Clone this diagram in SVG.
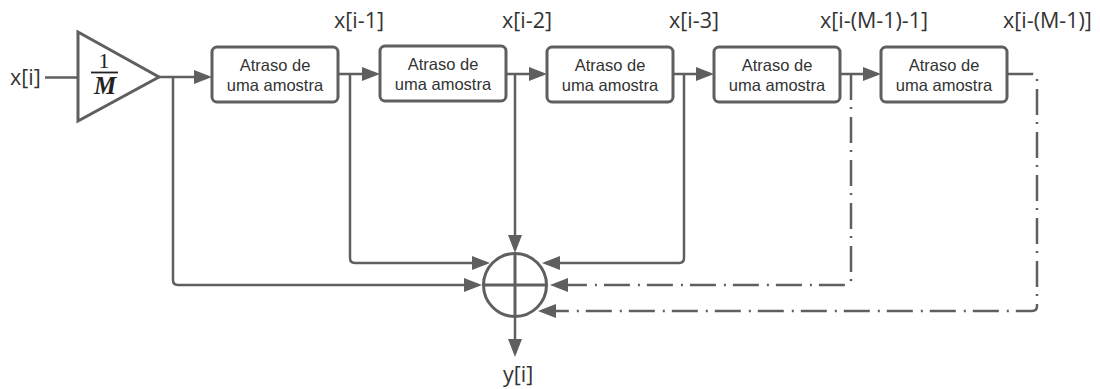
<svg xmlns="http://www.w3.org/2000/svg" width="1100" height="389" viewBox="0 0 1100 389">
  <defs>
    <marker id="arrow" markerUnits="userSpaceOnUse" markerWidth="19" markerHeight="15" refX="14" refY="7" orient="auto">
      <path d="M0,0 L18,7 L0,14 Z" fill="#5f5f5f" stroke="none"/>
    </marker>
    <style>
      .box { fill: #ffffff; stroke: #5f5f5f; stroke-width: 3; }
      .line { fill: none; stroke: #5f5f5f; stroke-width: 2.5; }
      .arr { marker-end: url(#arrow); }
      .dd { stroke-dasharray: 26 7 2 8; }
      .lbl { font-family: "Open Sans", "Liberation Sans", sans-serif; font-size: 21.5px; fill: #333333; }
      .btxt { font-family: "Liberation Sans", Arial, sans-serif; font-size: 16.5px; fill: #333333; text-anchor: middle; }
      .math { font-family: "Liberation Serif", "Times New Roman", serif; fill: #222222; text-anchor: middle; }
    </style>
  </defs>

  <rect width="1100" height="389" fill="#ffffff"/>

  <!-- signal connectors -->
  <g id="connectors">
    <!-- input into gain -->
    <path class="line" d="M45,77.5 H78"/>
    <!-- gain output to first delay, and tap to the adder -->
    <path class="line arr" d="M159,77 H208"/>
    <path class="line arr" d="M173,77 V280 Q173,285 178,285 H478"/>
    <!-- delay chain -->
    <path class="line arr" d="M338,74 H376"/>
    <path class="line arr" d="M350,74 V258 Q350,263 355,263 H486"/>
    <path class="line arr" d="M506,74 H543"/>
    <path class="line arr" d="M515,74 V249"/>
    <path class="line arr" d="M673,74 H710"/>
    <path class="line arr" d="M684,74 V258 Q684,263 679,263 H546"/>
    <!-- dash-dot continuation taps -->
    <path class="line dd" d="M840,74 H866"/>
    <path class="line arr" d="M866,74 H877"/>
    <path class="line arr dd" d="M851,74 V280 Q851,285 846,285 H554"/>
    <path class="line arr dd" d="M1007,74 H1032 Q1037,74 1037,79 V306 Q1037,311 1032,311 H542"/>
    <!-- adder output -->
    <path class="line arr" d="M515,317 V353"/>
  </g>

  <!-- gain block 1/M -->
  <g id="gain">
    <polygon points="78,32 78,121 159,77" fill="#ffffff" stroke="#5f5f5f" stroke-width="3" stroke-linejoin="miter"/>
    <text class="math" x="104" y="68" font-size="22px">1</text>
    <line x1="91" y1="72.5" x2="118" y2="72.5" stroke="#222222" stroke-width="1.8"/>
    <text class="math" x="105" y="94" font-size="25px" font-style="italic" font-weight="bold">M</text>
  </g>

  <!-- unit delay blocks -->
  <g id="delay1">
    <rect class="box" x="212" y="47" width="126" height="55" rx="5"/>
    <text class="btxt" x="275" y="71">Atraso de</text>
    <text class="btxt" x="275" y="91">uma amostra</text>
  </g>
  <g id="delay2">
    <rect class="box" x="380" y="46" width="126" height="55" rx="5"/>
    <text class="btxt" x="443" y="70">Atraso de</text>
    <text class="btxt" x="443" y="90">uma amostra</text>
  </g>
  <g id="delay3">
    <rect class="box" x="547" y="47" width="126" height="55" rx="5"/>
    <text class="btxt" x="610" y="71">Atraso de</text>
    <text class="btxt" x="610" y="91">uma amostra</text>
  </g>
  <g id="delay4">
    <rect class="box" x="714" y="47" width="126" height="55" rx="5"/>
    <text class="btxt" x="777" y="71">Atraso de</text>
    <text class="btxt" x="777" y="91">uma amostra</text>
  </g>
  <g id="delay5">
    <rect class="box" x="881" y="47" width="126" height="55" rx="5"/>
    <text class="btxt" x="944" y="71">Atraso de</text>
    <text class="btxt" x="944" y="91">uma amostra</text>
  </g>

  <!-- summing junction -->
  <g id="adder">
    <circle cx="515" cy="285" r="31.5" fill="#ffffff" stroke="#5f5f5f" stroke-width="3"/>
    <line x1="483.5" y1="285" x2="546.5" y2="285" stroke="#5f5f5f" stroke-width="3"/>
    <line x1="515" y1="253.5" x2="515" y2="316.5" stroke="#5f5f5f" stroke-width="3"/>
  </g>

  <!-- signal labels -->
  <g id="labels">
    <text class="lbl" x="10" y="85">x[i]</text>
    <text class="lbl" x="334" y="28">x[i-1]</text>
    <text class="lbl" x="502" y="28">x[i-2]</text>
    <text class="lbl" x="669" y="28">x[i-3]</text>
    <text class="lbl" x="820" y="28">x[i-(M-1)-1]</text>
    <text class="lbl" x="1003" y="28">x[i-(M-1)]</text>
    <text class="lbl" x="503" y="382">y[i]</text>
  </g>
</svg>
